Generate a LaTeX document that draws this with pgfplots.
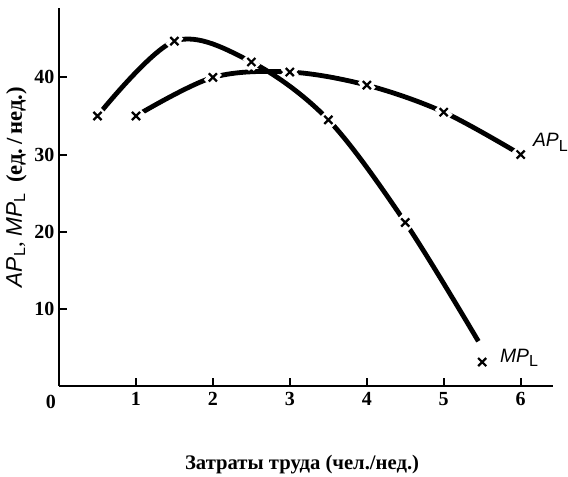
\documentclass[border=0pt]{standalone}
\usepackage{fontspec}
\setmainfont{Liberation Serif}
\newfontfamily\lsans{Liberation Sans}
\usepackage{pgfplots}
\pgfplotsset{compat=1.18}
\newcommand\lab[1]{{\lsans\itshape #1}\textsubscript{\lsans\fontsize{12}{12}\selectfont L}}
\begin{document}
\begin{tikzpicture}
\begin{axis}[
  scale only axis, width=370.5pt, height=283.5pt,
  xmin=0, xmax=6.42, ymin=0, ymax=49,
  axis lines=left,
  axis line style={-, line width=1.4pt},
  xtick={1,2,3,4,5,6}, xticklabels={1,2,3,4,5,6},
  ytick={10,20,30,40}, yticklabels={10,20,30,40},
  tick align=inside,
  major tick length=6pt,
  tick style={black, line width=1.5pt},
  xticklabel style={font=\fontsize{15}{15}\selectfont\bfseries, yshift=-1pt},
  yticklabel style={font=\fontsize{15}{15}\selectfont\bfseries},
  clip mode=individual,
]
\addplot[black, line width=3.6pt, smooth, tension=0.55] coordinates {
  (0.5,35) (1.5,44.7) (2.5,42) (3.5,34.5) (4.5,21.2) (5.45,5.8)};
\addplot[black, line width=3.6pt, smooth, tension=0.55] coordinates {
  (1,35) (2,40) (3,40.7) (4,39) (5,35.5) (6,30)};
% white halo under the markers, to break the curves
\addplot[only marks, mark=x, mark size=6pt, mark options={line width=7pt, white}] coordinates {
  (0.5,35) (1.5,44.7) (2.5,42) (3.5,34.5) (4.5,21.2) (5.5,3.1)};
\addplot[only marks, mark=x, mark size=6pt, mark options={line width=7pt, white}] coordinates {
  (1,35) (2,40) (3,40.7) (4,39) (5,35.5) (6,30)};
\addplot[only marks, mark=x, mark size=4.3pt, mark options={line width=1.7pt, black}] coordinates {
  (0.5,35) (1.5,44.7) (2.5,42) (3.5,34.5) (4.5,21.2) (5.5,3.1)};
\addplot[only marks, mark=x, mark size=4.3pt, mark options={line width=1.7pt, black}] coordinates {
  (1,35) (2,40) (3,40.7) (4,39) (5,35.5) (6,30)};
% tick strokes on the axes
\draw[line width=1.5pt] (axis cs:1,0) -- ([yshift=6pt]axis cs:1,0);
\draw[line width=1.5pt] (axis cs:2,0) -- ([yshift=6pt]axis cs:2,0);
\draw[line width=1.5pt] (axis cs:3,0) -- ([yshift=6pt]axis cs:3,0);
\draw[line width=1.5pt] (axis cs:4,0) -- ([yshift=6pt]axis cs:4,0);
\draw[line width=1.5pt] (axis cs:5,0) -- ([yshift=6pt]axis cs:5,0);
\draw[line width=1.5pt] (axis cs:6,0) -- ([yshift=6pt]axis cs:6,0);
\draw[line width=1.5pt] (axis cs:0,10) -- ([xshift=5pt]axis cs:0,10);
\draw[line width=1.5pt] (axis cs:0,20) -- ([xshift=5pt]axis cs:0,20);
\draw[line width=1.5pt] (axis cs:0,30) -- ([xshift=5pt]axis cs:0,30);
\draw[line width=1.5pt] (axis cs:0,40) -- ([xshift=5pt]axis cs:0,40);
\node[anchor=base west, font=\fontsize{14.5}{14.5}\selectfont] at (axis cs:6.1,31.0) {\lab{AP}};
\node[anchor=base west, font=\fontsize{14.5}{14.5}\selectfont] at (axis cs:5.67,3.1) {\lab{MP}};
\node[font=\fontsize{15}{15}\selectfont\bfseries] at ([xshift=-6pt,yshift=-12pt]axis cs:0,0) {0};
\node[font=\fontsize{15.5}{15.5}\selectfont\bfseries] at ([yshift=-59.25pt]axis description cs:0.492,0) {Затраты труда (чел./нед.)};
\node[rotate=90, font=\fontsize{17}{17}\selectfont] at ([xshift=-32pt]axis description cs:0,0.526) {\lab{AP}, \lab{MP} \,{\bfseries(ед.\,/\,нед.)}};
\coordinate (O) at (axis cs:0,0);
\end{axis}
\pgfresetboundingbox
\path ([xshift=-44.25pt,yshift=-68.25pt]O) rectangle ([xshift=381.75pt,yshift=289.5pt]O);
\end{tikzpicture}
\end{document}
